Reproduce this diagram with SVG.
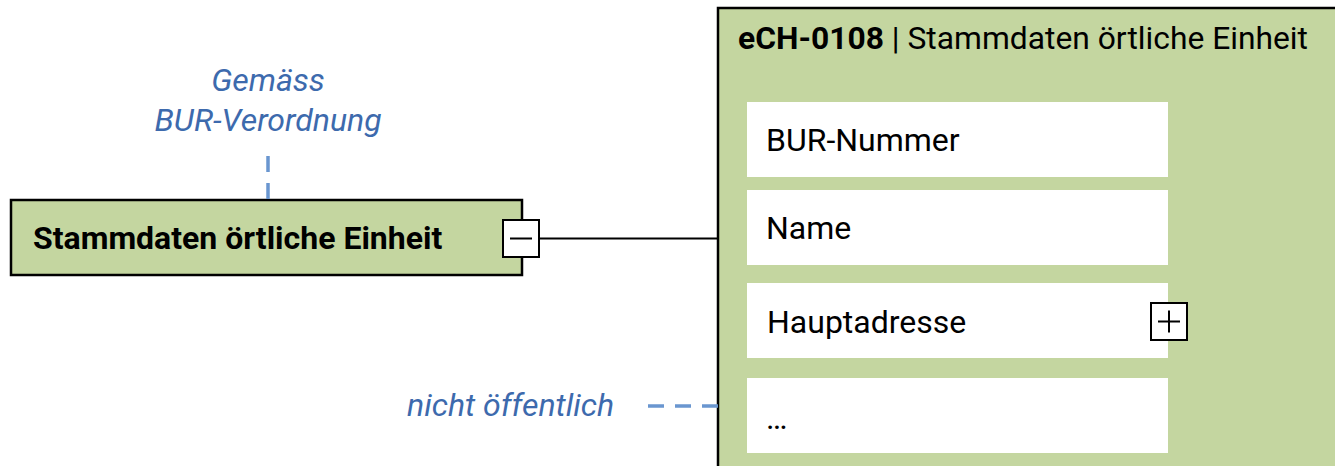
<svg xmlns="http://www.w3.org/2000/svg" width="1335" height="466" viewBox="0 0 1335 466">
<style>
text{font-family:Roboto,"Liberation Sans",sans-serif;font-size:32px;fill:#000}
.note{font-style:italic;fill:#3d6aad}
.green{fill:#c4d6a0;stroke:#000;stroke-width:2.5}
.row{fill:#fff}
.tog{fill:#fff;stroke:#000;stroke-width:2}
.dash{stroke:#6a96d0;stroke-width:3.5;stroke-dasharray:16 11;fill:none}
</style>
<rect width="1335" height="466" fill="#fff"/>
<g id="entity">
<rect x="718" y="8" width="630" height="470" class="green"/>
<text x="738" y="49" textLength="570" lengthAdjust="spacingAndGlyphs"><tspan font-weight="bold">eCH-0108</tspan> | Stammdaten örtliche Einheit</text>
<g id="row-bur"><rect x="747" y="102" width="421" height="75" class="row"/><text x="766" y="151">BUR-Nummer</text></g>
<g id="row-name"><rect x="747" y="190" width="421" height="75" class="row"/><text x="766" y="239">Name</text></g>
<g id="row-adr"><rect x="747" y="283" width="421" height="75" class="row"/><text x="767" y="333">Hauptadresse</text>
<rect x="1151" y="303" width="36" height="37" class="tog"/><path d="M1158 321.5h22M1169 310.5v22" stroke="#000" stroke-width="2"/></g>
<g id="row-more"><rect x="747" y="378" width="421" height="75" class="row"/><text x="766" y="429">…</text></g>
</g>
<g id="stamm">
<rect x="11" y="200" width="511" height="75" class="green"/>
<text x="33" y="249" font-weight="bold">Stammdaten örtliche Einheit</text>
<rect x="503" y="220" width="36" height="37" class="tog"/><path d="M510 238.5h22" stroke="#000" stroke-width="2"/>
</g>
<g id="notes">
<text class="note" x="268" y="91" text-anchor="middle">Gemäss</text>
<text class="note" x="268" y="131" text-anchor="middle">BUR-Verordnung</text>
<text class="note" x="407" y="416">nicht öffentlich</text>
</g>
<g id="connectors">
<path d="M539 238.5H718" stroke="#000" stroke-width="2"/>
<path d="M268 156V200" class="dash"/>
<path d="M648 406H718" class="dash"/>
</g>
</svg>
